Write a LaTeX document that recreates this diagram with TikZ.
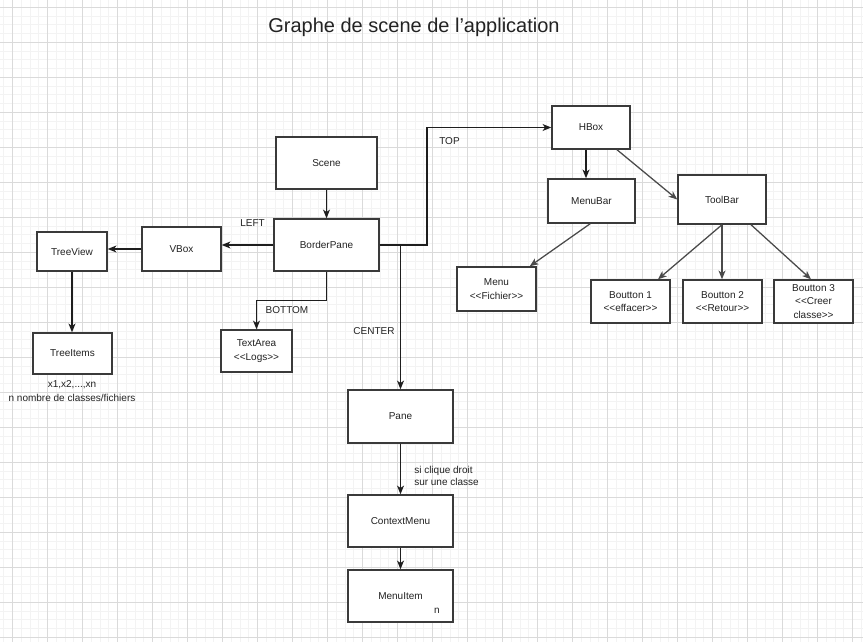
\documentclass[tikz,border=0pt]{standalone}
\usepackage{fontspec}
\setmainfont{Liberation Sans}
\usetikzlibrary{arrows.meta,calc}
\definecolor{gridmaj}{HTML}{DADADA}
\definecolor{gridmin}{HTML}{F3F3F3}
\definecolor{boxcol}{HTML}{3A3A3A}
\definecolor{txtcol}{HTML}{222222}
\definecolor{edgecol}{HTML}{1E1E1E}
\definecolor{edgegray}{HTML}{4A4A4A}
\newcommand\lt{<{}<}
\newcommand\gt{>{}>}
\begin{document}
\begin{tikzpicture}[x=0.75pt,y=-0.75pt,
  box/.style={draw=boxcol, line width=1.1pt, fill=white, inner sep=1pt, align=center,
              font=\fontsize{7.5}{10}\selectfont, text=txtcol},
  lbl/.style={font=\fontsize{7.5}{9.5}\selectfont, text=txtcol, inner sep=0pt, align=center},
  arr/.style={draw=edgecol, line width=0.95pt, -{Stealth[length=6.5pt,width=5.2pt,inset=1.8pt]}},
  arrg/.style={arr, draw=edgegray}
]
% background and grid
\fill[white] (0,0) rectangle (863,642);
\useasboundingbox (0,0) rectangle (863,642);
\foreach \i in {0,...,98} { \draw[gridmin, line width=0.75pt] ({3.95+8.75*\i},0) -- ({3.95+8.75*\i},642); }
\foreach \i in {0,...,72} { \draw[gridmin, line width=0.75pt] (0,{7.3+8.75*\i}) -- (863,{7.3+8.75*\i}); }
\foreach \i in {0,...,24} { \draw[gridmaj, line width=0.75pt] ({12.7+35*\i},0) -- ({12.7+35*\i},642); }
\foreach \i in {0,...,18} { \draw[gridmaj, line width=0.75pt] (0,{7.3+35*\i}) -- (863,{7.3+35*\i}); }

% title
\node[font=\fontsize{15}{18}\selectfont, text=txtcol] (title) at (414,27) {Graphe de scene de l’application};

% nodes
\node[box, minimum width=75.75pt, minimum height=39pt] (scene) at (326.5,163) {Scene};
\node[box, minimum width=78.75pt, minimum height=39pt] (bp) at (326.5,245) {BorderPane};
\node[box, minimum width=59.25pt, minimum height=33pt] (vbox) at (181.5,249) {VBox};
\node[box, minimum width=52.5pt, minimum height=29.25pt] (tv) at (72,251.5) {TreeView};
\node[box, minimum width=59.25pt, minimum height=30.75pt] (ti) at (72.5,353.5) {TreeItems};
\node[box, minimum width=53.25pt, minimum height=31.5pt] (ta) at (256.5,351) {TextArea\\\lt Logs\gt};
\node[box, minimum width=58.5pt, minimum height=32.25pt] (hbox) at (591,127.5) {HBox};
\node[box, minimum width=65.25pt, minimum height=33pt] (mb) at (591.5,201) {MenuBar};
\node[box, minimum width=66pt, minimum height=36.75pt] (tb) at (722,199.5) {ToolBar};
\node[box, minimum width=59.25pt, minimum height=33pt] (menu) at (496.5,289) {Menu\\\lt Fichier\gt};
\node[box, minimum width=59.25pt, minimum height=32.25pt] (b1) at (630.5,301.5) {Boutton 1\\\lt effacer\gt};
\node[box, minimum width=59.25pt, minimum height=32.25pt] (b2) at (722.5,301.5) {Boutton 2\\\lt Retour\gt};
\node[box, minimum width=59.25pt, minimum height=32.25pt] (b3) at (813.5,301.5) {Boutton 3\\\lt Creer\\classe\gt};
\node[box, minimum width=78.75pt, minimum height=39.75pt] (pane) at (400.5,416.5) {Pane};
\node[box, minimum width=78.75pt, minimum height=39pt] (ctx) at (400.5,521) {ContextMenu};
\node[box, minimum width=78.75pt, minimum height=39pt] (mi) at (400.5,596) {MenuItem};
\node[lbl] (nlbl) at (437,611) {n};

% free texts
\node[lbl] (xs) at (72,385) {x1,x2,...,xn};
\node[lbl] (nb) at (72,397.5) {n nombre de classes/fichiers};
\node[lbl] (left) at (252.5,223) {LEFT};
\node[lbl] (bottom) at (287,310) {BOTTOM};
\node[lbl] (top) at (449.5,141) {TOP};
\node[lbl] (center) at (374,331) {CENTER};
\node[lbl, align=left, anchor=west] (clic) at (414,476) {si clique droit\\sur une classe};

% helper coordinates
\coordinate (bk) at (256.5,300.5);
\coordinate (tp) at (427,127.5);

% connectors
\draw[arr] (scene.south) -- (bp.north);
\draw[arr] (bp.west) -- (bp.west -| vbox.east);
\draw[arr] (vbox.west) -- (vbox.west -| tv.east);
\draw[arr] (tv.south) -- (tv.south |- ti.north);
\draw[arr] (bp.south) |- (bk) -- (ta.north);
\draw[arr] (bp.east) -| (tp) -- (hbox.west);
\draw[arr] (bp.east) -| (pane.north);
\draw[arr] (pane.south) -- (ctx.north);
\draw[arr] (ctx.south) -- (mi.north);
\draw[arr] ([xshift=-3.75pt]hbox.south) -- ([xshift=-3.75pt]hbox.south |- mb.north);
\draw[arrg] ([xshift=19.5pt]hbox.south) -- (tb.west);
\draw[arrg] ([xshift=-1pt]mb.south) -- ([xshift=-5.25pt]menu.north east);
\draw[arrg] (tb.south) -- ([xshift=20.6pt]b1.north);
\draw[arrg] (tb.south) -- (tb.south |- b2.north);
\draw[arrg] ([xshift=21.75pt]tb.south) -- ([xshift=-1.9pt]b3.north);
\end{tikzpicture}
\end{document}
